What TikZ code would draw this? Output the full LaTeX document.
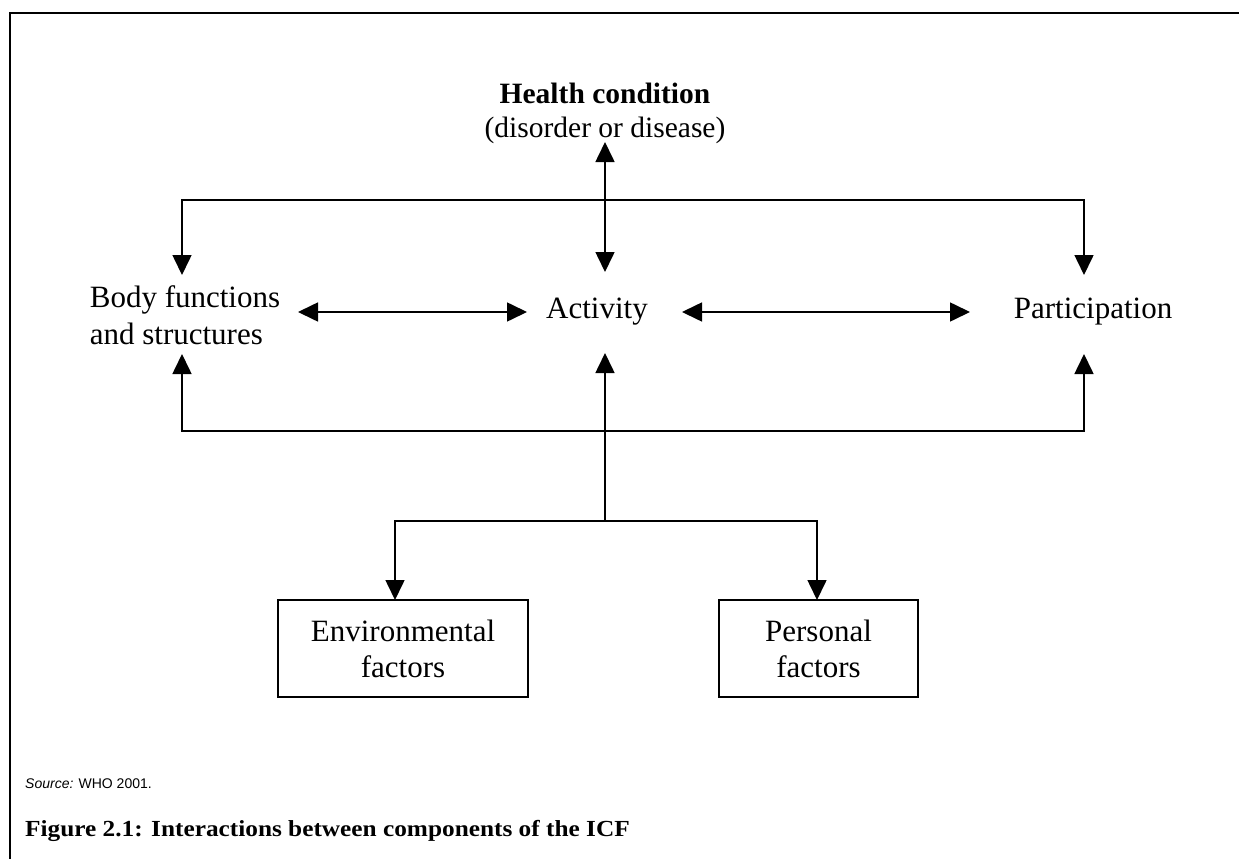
\documentclass[tikz,border=0pt]{standalone}
\usepackage{fontspec}
\setmainfont{Liberation Serif}
\setsansfont{Liberation Sans}
\newfontfamily\capfont{Liberation Serif}[FakeStretch=1.1]
\usetikzlibrary{arrows.meta}
\tikzset{
  lbl/.style={inner sep=0pt, font=\fontsize{31}{37}\selectfont, align=center},
  conn/.style={line width=1.6pt, -{Triangle[length=20pt,width=19pt]}},
  dconn/.style={line width=1.6pt, {Triangle[length=20pt,width=19pt]}-{Triangle[length=20pt,width=19pt]}},
  fbox/.style={draw, line width=1.6pt, minimum width=250pt, minimum height=97pt, inner sep=0pt, font=\fontsize{31}{36}\selectfont, align=center},
}
\begin{document}
\begin{tikzpicture}[x=1pt, y=-1pt]
\useasboundingbox (0,0) rectangle (1239,859);
\clip (0,0) rectangle (1239,859);
% frame
\draw[line width=2pt] (10,880) -- (10,13) -- (1260,13);

% nodes
\node[lbl, font=\fontsize{29.5}{34}\selectfont] (hc) at (605,113) {\textbf{Health condition}\\(disorder or disease)};
\node[lbl, align=left] (body) at (185,315) {Body functions\\and structures};
\node[lbl] (act) at (597,312) {Activity};
\node[lbl] (part) at (1093,312) {Participation};
\node[fbox] (env) at (403,648.5) {Environmental\\factors};
\node[fbox, minimum width=199pt] (pers) at (818.5,648.5) {Personal\\factors};

% coordinates
\coordinate (hcBot) at (605,142);
\coordinate (actTop) at (605,272);
\coordinate (jTop) at (605,200);
\coordinate (bodyTop) at (182,275);
\coordinate (partTop) at (1084,275);
\coordinate (bodyE) at (298,312);
\coordinate (actW) at (527,312);
\coordinate (actE) at (682,312);
\coordinate (partW) at (970,312);
\coordinate (jBot) at (605,431);
\coordinate (bodyBot) at (182,354);
\coordinate (partBot) at (1084,354);
\coordinate (actBot) at (605,353);
\coordinate (jBr) at (605,521);
\coordinate (envTop) at (395,600);
\coordinate (persTop) at (817,600);

% connectors
\draw[dconn] (hcBot) -- (actTop);
\draw[conn] (jTop) -| (bodyTop);
\draw[conn] (jTop) -| (partTop);
\draw[dconn] (bodyE) -- (actW);
\draw[dconn] (actE) -- (partW);
\draw[conn] (jBot) -| (bodyBot);
\draw[conn] (jBot) -| (partBot);
\draw[conn] (jBr) -- (actBot);
\draw[conn] (jBr) -| (envTop);
\draw[conn] (jBr) -| (persTop);

% captions
\node[anchor=base west, inner sep=0pt, font=\sffamily\fontsize{14}{16}\selectfont] (src) at (25,788) {\textit{Source:} WHO 2001.};
\node[anchor=base west, inner sep=0pt, font=\capfont\fontsize{23}{26}\selectfont\bfseries] (cap) at (25,836) {Figure 2.1: Interactions between components of the ICF};
\end{tikzpicture}
\end{document}
